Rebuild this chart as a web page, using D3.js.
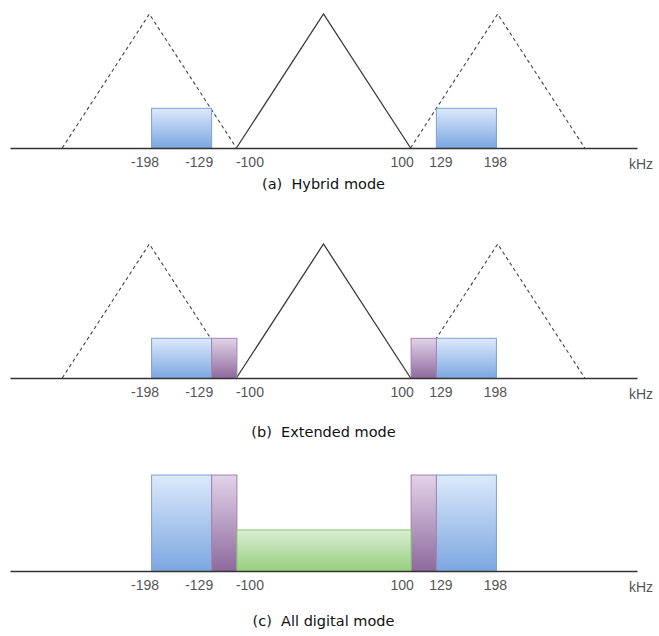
<!DOCTYPE html>
<html>
<head>
<meta charset="utf-8">
<script src="https://cdn.jsdelivr.net/npm/d3@7"></script>
<style>
  html, body { margin: 0; padding: 0; background: #ffffff; }
  svg { display: block; }
</style>
</head>
<body>
<svg id="chart" width="659" height="636"></svg>
<script>
// Frequency labels along each baseband axis (kHz)
const tickValues = [-198, -129, -100, 100, 129, 198];
const unitLabel = "kHz";

// Panel captions
const panelTitles = ["(a)  Hybrid mode", "(b)  Extended mode", "(c)  All digital mode"];

// Analog host spectrum (solid) and first-adjacent analog neighbours (dashed): [kHz, relative level]
const analogHost = [[-100, 0], [0, 1], [100, 0]];
const neighbourLower = [[-300, 0], [-200, 1], [-100, 0]];
const neighbourUpper = [[100, 0], [200, 1], [300, 0]];

// Digital sidebands per mode: [from kHz, to kHz, relative level]
const hybridPrimary = [[-198, -129, 0.30], [129, 198, 0.30]];
const extendedPrimary = [[-198, -129, 0.30], [129, 198, 0.30]];
const extendedExtra = [[-129, -100, 0.30], [100, 129, 0.30]];
const digitalPrimary = [[-198, -129, 0.72], [129, 198, 0.72]];
const digitalExtra = [[-129, -100, 0.72], [100, 129, 0.72]];
const digitalSecondary = [[-100, 100, 0.31]];

const svg = d3.select("#chart");

// Shared frequency scale
const x = d3.scaleLinear().domain([-360, 360]).range([10, 637]);

// Gradient fills for the three sideband kinds
const defs = svg.append("defs");
const gradients = {
  primary:   { id: "gPrimary",   top: "#dce9fb", bottom: "#7ba6e0", stroke: "#7f9fd3" },
  extended:  { id: "gExtended",  top: "#e2d3e8", bottom: "#8d699d", stroke: "#a283b4" },
  secondary: { id: "gSecondary", top: "#d9edd3", bottom: "#97cf7f", stroke: "#86c26c" }
};
Object.values(gradients).forEach(g => {
  const lg = defs.append("linearGradient").attr("id", g.id)
    .attr("x1", 0).attr("y1", 0).attr("x2", 0).attr("y2", 1);
  lg.append("stop").attr("offset", "0%").attr("stop-color", g.top);
  lg.append("stop").attr("offset", "100%").attr("stop-color", g.bottom);
});

// Label nudges so the numbers sit beside the band edges
const labelShift = { "-198": -6.5, "-129": -12.5, "-100": 13, "100": -9, "129": 4.5, "198": -1 };

const panels = [
  { baseline: 148, title: panelTitles[0], titleY: 189, analog: true,
    bands: [[hybridPrimary, "primary"]] },
  { baseline: 378, title: panelTitles[1], titleY: 437, analog: true,
    bands: [[extendedPrimary, "primary"], [extendedExtra, "extended"]] },
  { baseline: 571, title: panelTitles[2], titleY: 626, analog: false,
    bands: [[digitalPrimary, "primary"], [digitalExtra, "extended"], [digitalSecondary, "secondary"]] }
];

const line = d3.line();
const labelFont = "'Liberation Sans', Arial, sans-serif";

panels.forEach(p => {
  const y = d3.scaleLinear().domain([0, 1]).range([p.baseline, p.baseline - 134]);
  const g = svg.append("g");

  if (p.analog) {
    [neighbourLower, neighbourUpper].forEach(tri => {
      g.append("path")
        .attr("d", line(tri.map(d => [x(d[0]), y(d[1])])))
        .attr("fill", "none").attr("stroke", "#444").attr("stroke-width", 1.1)
        .attr("stroke-dasharray", "3.5,3");
    });
    g.append("path")
      .attr("d", line(analogHost.map(d => [x(d[0]), y(d[1])])))
      .attr("fill", "none").attr("stroke", "#3a3a3a").attr("stroke-width", 1.3);
  }

  p.bands.forEach(([bands, kind]) => {
    const st = gradients[kind];
    g.selectAll(null).data(bands).enter().append("rect")
      .attr("x", d => x(d[0]) + 0.5)
      .attr("y", d => y(d[2]) + 0.5)
      .attr("width", d => x(d[1]) - x(d[0]))
      .attr("height", d => y(0) - y(d[2]))
      .attr("fill", `url(#${st.id})`)
      .attr("stroke", st.stroke).attr("stroke-width", 1);
  });

  // Frequency axis (plain hyphen for negative values)
  const axis = d3.axisBottom(x).tickValues(tickValues).tickSize(0).tickPadding(9)
    .tickFormat(d => String(d));
  const ax = g.append("g").attr("transform", `translate(0,${p.baseline})`).call(axis);
  ax.attr("font-family", labelFont).attr("font-size", 14);
  ax.select(".domain").attr("stroke", "#333").attr("stroke-width", 1.6);
  ax.selectAll(".tick text")
    .attr("dx", d => labelShift[String(d)])
    .attr("fill", "#555")
    .style("font-family", labelFont)
    .style("font-size", "14px");

  g.append("text")
    .attr("x", x(360) + 4).attr("y", p.baseline + 21)
    .attr("text-anchor", "middle")
    .attr("fill", "#555")
    .style("font-family", labelFont)
    .style("font-size", "14px")
    .text(unitLabel);

  g.append("text")
    .attr("x", x(0)).attr("y", p.titleY)
    .attr("text-anchor", "middle")
    .attr("fill", "#111")
    .style("font-family", "'DejaVu Sans', Verdana, sans-serif")
    .style("font-size", "14.5px")
    .style("white-space", "pre")
    .text(p.title);
});
</script>
</body>
</html>
